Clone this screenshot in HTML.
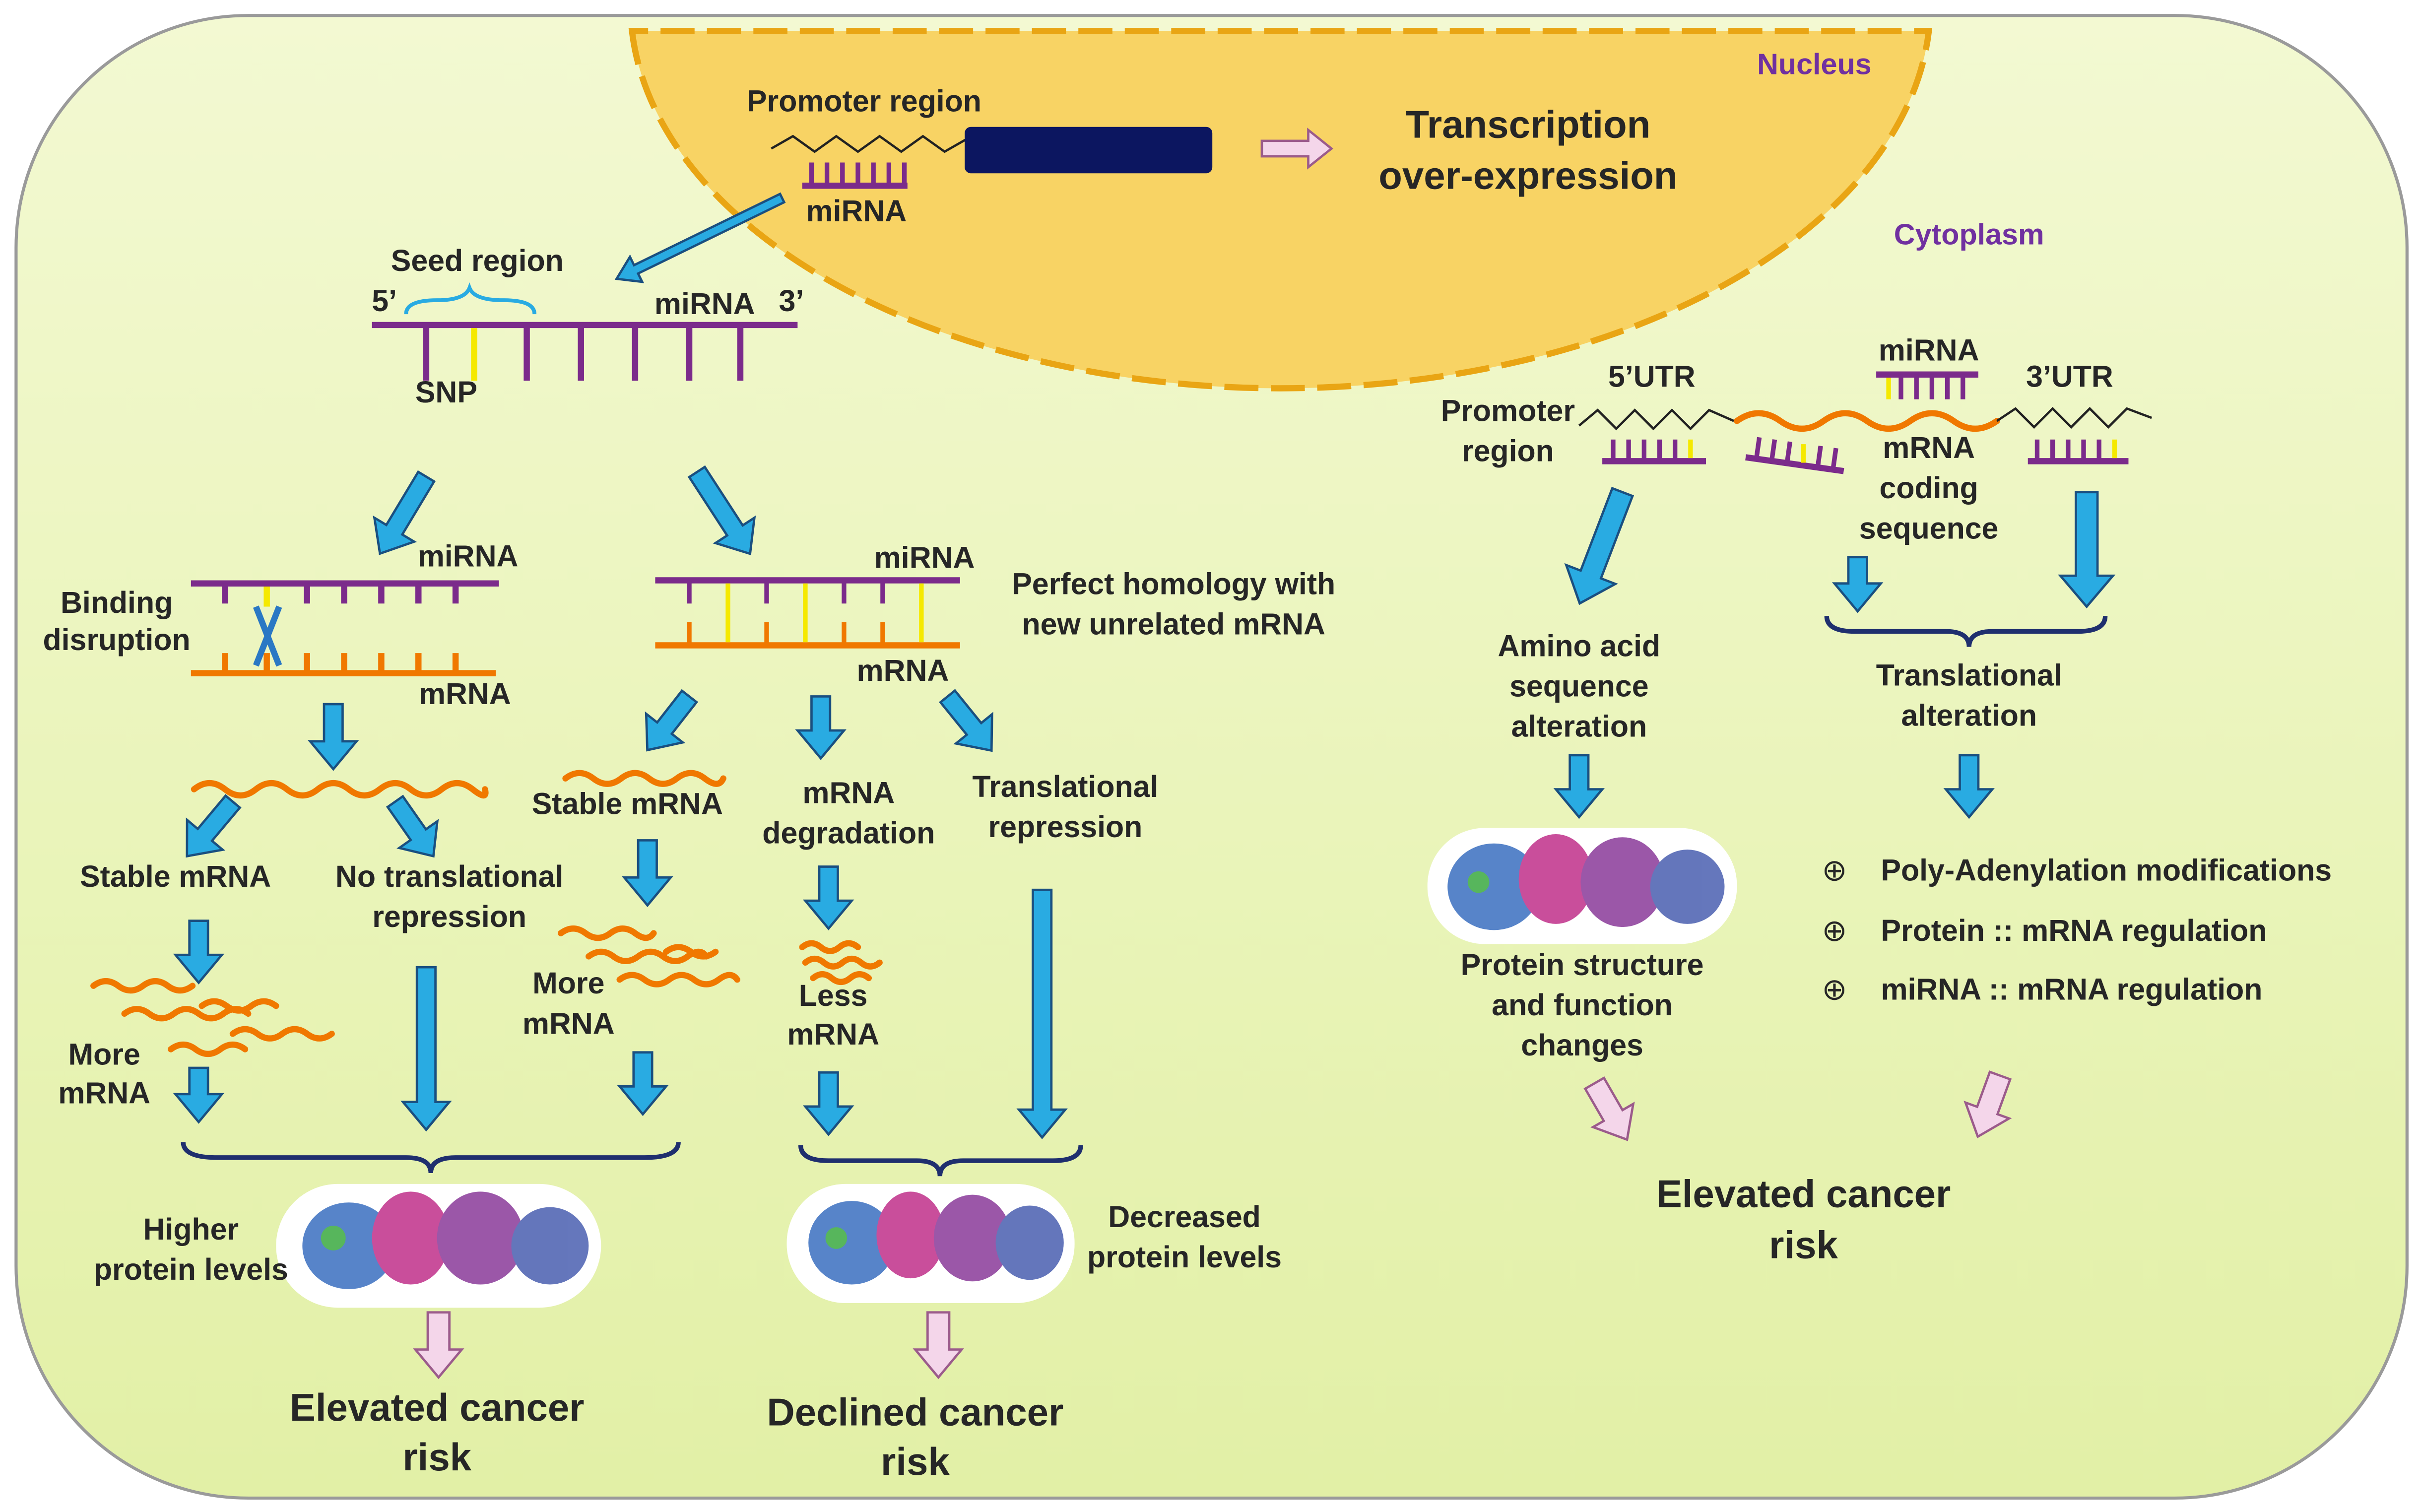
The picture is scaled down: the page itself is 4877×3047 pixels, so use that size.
<!DOCTYPE html>
<html><head><meta charset="utf-8"><style>
html,body{margin:0;padding:0;background:#fff;}
svg{display:block}
text{font-family:"Liberation Sans",sans-serif;font-weight:bold;fill:#262626;font-size:19.5px;text-anchor:middle}
.big{font-size:25px}
</style></head><body>
<svg width="4877" height="3047" viewBox="0 0 1563 977" xmlns="http://www.w3.org/2000/svg">
<defs>
<linearGradient id="bg" x1="0" y1="0" x2="0" y2="1">
<stop offset="0" stop-color="#f3f9d2"/><stop offset="1" stop-color="#e2f0a6"/></linearGradient>
</defs>
<rect x="10" y="10" width="1545" height="958" rx="150" fill="url(#bg)" stroke="#9a9a9a" stroke-width="2"/>
<!-- nucleus -->
<path d="M408,20 A420,248 0 0 0 1246,20 Z" fill="#f8d364" stroke="#e9a514" stroke-width="4" stroke-dasharray="22,8"/>
<text x="1172" y="48" style="fill:#7030a0;font-size:19px">Nucleus</text>
<text x="1272" y="158" style="fill:#7030a0;font-size:19px">Cytoplasm</text>
<text x="558" y="72">Promoter region</text>
<polyline points="498,96 512,88 526,98 540,88 554,98 568,88 582,98 596,88 610,98 624,90" fill="none" stroke="#222" stroke-width="1.5"/>
<g stroke="#7b2b8b" stroke-width="3"><line x1="518" y1="120" x2="586" y2="120" stroke-width="4"/>
<line x1="524" y1="120" x2="524" y2="105"/><line x1="534" y1="120" x2="534" y2="105"/><line x1="544" y1="120" x2="544" y2="105"/><line x1="554" y1="120" x2="554" y2="105"/><line x1="564" y1="120" x2="564" y2="105"/><line x1="574" y1="120" x2="574" y2="105"/><line x1="584" y1="120" x2="584" y2="105"/></g>
<text x="553" y="143">miRNA</text>
<rect x="623" y="82" width="160" height="30" rx="4" fill="#0c1660"/>
<path d="M815,91 H845 V84 L860,96 L845,108 V101 H815 Z" fill="#f4d6ea" stroke="#9b5b8b" stroke-width="1.5"/>
<text x="987" y="89" class="big">Transcription</text>
<text x="987" y="122" class="big">over-expression</text>
<g transform="translate(505,128) rotate(64)"><path d="M-3,0 H3 V105 H9 L0,119 L-9,105 H-3 Z" fill="#29abe2" stroke="#1a4f80" stroke-width="1.5"/></g>
<!-- seed -->
<text x="308" y="175">Seed region</text>
<path d="M262,203 Q262,194 282,194 Q300,194 303,186 Q306,194 325,194 Q345,194 345,203" fill="none" stroke="#29abe2" stroke-width="2.5"/>
<text x="248" y="201">5’</text><text x="455" y="203">miRNA</text><text x="511" y="201">3’</text>
<g stroke="#7b2b8b" stroke-width="4"><line x1="240" y1="210" x2="515" y2="210"/>
<line x1="275" y1="210" x2="275" y2="246"/><line x1="340" y1="210" x2="340" y2="246"/><line x1="375" y1="210" x2="375" y2="246"/><line x1="410" y1="210" x2="410" y2="246"/><line x1="445" y1="210" x2="445" y2="246"/><line x1="478" y1="210" x2="478" y2="246"/></g>
<line x1="306" y1="212" x2="306" y2="246" stroke="#f5e900" stroke-width="4"/>
<text x="288" y="260">SNP</text>
<!-- binding disruption -->
<g stroke="#7b2b8b" stroke-width="4"><line x1="123" y1="377" x2="322" y2="377"/>
<line x1="145" y1="377" x2="145" y2="390"/><line x1="198" y1="377" x2="198" y2="390"/><line x1="222" y1="377" x2="222" y2="390"/><line x1="246" y1="377" x2="246" y2="390"/><line x1="270" y1="377" x2="270" y2="390"/><line x1="294" y1="377" x2="294" y2="390"/></g>
<line x1="172" y1="379" x2="172" y2="392" stroke="#f5e900" stroke-width="4"/>
<g stroke="#f07800" stroke-width="4"><line x1="123" y1="435" x2="320" y2="435"/>
<line x1="145" y1="435" x2="145" y2="422"/><line x1="172" y1="435" x2="172" y2="422"/><line x1="198" y1="435" x2="198" y2="422"/><line x1="222" y1="435" x2="222" y2="422"/><line x1="246" y1="435" x2="246" y2="422"/><line x1="270" y1="435" x2="270" y2="422"/><line x1="294" y1="435" x2="294" y2="422"/></g>
<path d="M165,392 L180,430 M180,392 L165,430" stroke="#2a78c4" stroke-width="4"/>
<text x="302" y="366">miRNA</text><text x="75" y="396">Binding</text><text x="75" y="420">disruption</text><text x="300" y="455">mRNA</text>
<!-- perfect homology -->
<g stroke="#7b2b8b" stroke-width="4"><line x1="423" y1="375" x2="620" y2="375"/></g>
<g stroke="#f07800" stroke-width="4"><line x1="423" y1="417" x2="620" y2="417"/></g>
<g stroke-width="3">
<g stroke="#7b2b8b"><line x1="445" y1="375" x2="445" y2="390"/><line x1="495" y1="375" x2="495" y2="390"/><line x1="545" y1="375" x2="545" y2="390"/><line x1="570" y1="375" x2="570" y2="390"/></g>
<g stroke="#f07800"><line x1="445" y1="417" x2="445" y2="402"/><line x1="495" y1="417" x2="495" y2="402"/><line x1="545" y1="417" x2="545" y2="402"/><line x1="570" y1="417" x2="570" y2="402"/></g>
<g stroke="#f5e900"><line x1="470" y1="377" x2="470" y2="415"/><line x1="520" y1="377" x2="520" y2="415"/><line x1="595" y1="377" x2="595" y2="415"/></g></g>
<text x="597" y="367">miRNA</text><text x="758" y="384">Perfect homology with</text><text x="758" y="410">new unrelated mRNA</text><text x="583" y="440">mRNA</text>
<!-- waves -->
<g fill="none" stroke="#f07800" stroke-width="4" stroke-linecap="round">
<path d="M125,510 q10,-8 20,0 t20,0 t20,0 t20,0 t20,0 t20,0 t20,0 t20,0 t20,0 t8,0"/>
<path d="M365,503 q9,-7 18,0 t18,0 t18,0 t18,0 t18,0 t12,0"/>
<path d="M60,637 q8,-6 16,0 t16,0 t16,0 t16,0"/><path d="M80,655 q8,-6 16,0 t16,0 t16,0 t16,0 t16,0"/><path d="M130,650 q8,-6 16,0 t16,0 t16,0"/>
<path d="M150,668 q8,-6 16,0 t16,0 t16,0 t16,0"/><path d="M110,678 q8,-6 16,0 t16,0 t16,0"/>
<path d="M362,603 q8,-6 16,0 t16,0 t16,0 t12,0"/><path d="M380,618 q8,-6 16,0 t16,0 t16,0 t16,0 t12,0"/><path d="M400,633 q8,-6 16,0 t16,0 t16,0 t16,0 t12,0"/><path d="M430,615 q8,-6 16,0 t16,0"/>
<path d="M518,612 q6,-5 12,0 t12,0 t12,0"/><path d="M520,622 q6,-5 12,0 t12,0 t12,0 t12,0"/><path d="M525,632 q6,-5 12,0 t12,0 t12,0"/>
<path d="M1122,272 q14,-10 28,0 t28,0 t28,0 t28,0 t28,0 t28,0"/>
</g>
<text x="113" y="573">Stable mRNA</text><text x="290" y="573">No translational</text><text x="290" y="599">repression</text>
<text x="405" y="526">Stable mRNA</text><text x="548" y="519">mRNA</text><text x="548" y="545">degradation</text>
<text x="688" y="515">Translational</text><text x="688" y="541">repression</text>
<text x="367" y="642">More</text><text x="367" y="668">mRNA</text><text x="538" y="650">Less</text><text x="538" y="675">mRNA</text>
<text x="67" y="688">More</text><text x="67" y="713">mRNA</text>
<!-- blue arrows -->
<g fill="#29abe2" stroke="#1a4f80" stroke-width="1.5">
<g transform="translate(275,308) rotate(31)"><path d="M-6,0 H6 V40 H15 L0,58 L-15,40 H-6 Z"/></g>
<g transform="translate(450,305) rotate(-33)"><path d="M-6,0 H6 V45 H15 L0,63 L-15,45 H-6 Z"/></g>
<g transform="translate(215,455)"><path d="M-6,0 H6 V24 H15 L0,42 L-15,24 H-6 Z"/></g>
<g transform="translate(150,518) rotate(40)"><path d="M-6,0 H6 V28 H15 L0,46 L-15,28 H-6 Z"/></g>
<g transform="translate(255,518) rotate(-35)"><path d="M-6,0 H6 V26 H15 L0,43 L-15,26 H-6 Z"/></g>
<g transform="translate(128,595)"><path d="M-6,0 H6 V22 H15 L0,40 L-15,22 H-6 Z"/></g>
<g transform="translate(128,690)"><path d="M-6,0 H6 V17 H15 L0,35 L-15,17 H-6 Z"/></g>
<g transform="translate(275,625)"><path d="M-6,0 H6 V87 H15 L0,105 L-15,87 H-6 Z"/></g>
<g transform="translate(445,450) rotate(38)"><path d="M-6,0 H6 V26 H15 L0,44 L-15,26 H-6 Z"/></g>
<g transform="translate(530,450)"><path d="M-6,0 H6 V22 H15 L0,40 L-15,22 H-6 Z"/></g>
<g transform="translate(612,450) rotate(-39)"><path d="M-6,0 H6 V27 H15 L0,45 L-15,27 H-6 Z"/></g>
<g transform="translate(418,543)"><path d="M-6,0 H6 V24 H15 L0,42 L-15,24 H-6 Z"/></g>
<g transform="translate(535,560)"><path d="M-6,0 H6 V22 H15 L0,40 L-15,22 H-6 Z"/></g>
<g transform="translate(415,680)"><path d="M-6,0 H6 V22 H15 L0,40 L-15,22 H-6 Z"/></g>
<g transform="translate(535,693)"><path d="M-6,0 H6 V22 H15 L0,40 L-15,22 H-6 Z"/></g>
<g transform="translate(673,575)"><path d="M-6,0 H6 V142 H15 L0,160 L-15,142 H-6 Z"/></g>
<g transform="translate(1048,318) rotate(21)"><path d="M-7,0 H7 V57 H17 L0,77 L-17,57 H-7 Z"/></g>
<g transform="translate(1348,318)"><path d="M-7,0 H7 V54 H17 L0,74 L-17,54 H-7 Z"/></g>
<g transform="translate(1200,360)"><path d="M-6,0 H6 V17 H15 L0,35 L-15,17 H-6 Z"/></g>
<g transform="translate(1020,488)"><path d="M-6,0 H6 V22 H15 L0,40 L-15,22 H-6 Z"/></g>
<g transform="translate(1272,488)"><path d="M-6,0 H6 V22 H15 L0,40 L-15,22 H-6 Z"/></g>
</g>
<!-- braces -->
<g fill="none" stroke="#1f2f6e" stroke-width="3">
<path d="M118,738 Q118,748 140,748 L262,748 Q278,748 278,758 Q278,748 294,748 L416,748 Q438,748 438,738"/>
<path d="M517,740 Q517,750 535,750 L592,750 Q607,750 607,760 Q607,750 622,750 L680,750 Q698,750 698,740"/>
<path d="M1180,398 Q1180,408 1198,408 L1257,408 Q1272,408 1272,418 Q1272,408 1287,408 L1342,408 Q1360,408 1360,398"/>
</g>
<!-- proteins -->
<g>
<rect x="178" y="765" width="210" height="80" rx="40" fill="#fff"/>
<rect x="508" y="765" width="186" height="77" rx="38" fill="#fff"/>
<rect x="922" y="535" width="200" height="75" rx="37" fill="#fff"/>
<g opacity="0.85">
<ellipse cx="225" cy="805" rx="30" ry="28" fill="#3a6fc0"/><ellipse cx="265" cy="800" rx="25" ry="30" fill="#c0308a"/><ellipse cx="310" cy="800" rx="28" ry="30" fill="#8a3a9a"/><ellipse cx="355" cy="805" rx="25" ry="25" fill="#4a5fb0"/><circle cx="215" cy="800" r="8" fill="#3aaa40"/>
<ellipse cx="550" cy="803" rx="28" ry="27" fill="#3a6fc0"/><ellipse cx="588" cy="798" rx="22" ry="28" fill="#c0308a"/><ellipse cx="628" cy="800" rx="25" ry="28" fill="#8a3a9a"/><ellipse cx="665" cy="803" rx="22" ry="24" fill="#4a5fb0"/><circle cx="540" cy="800" r="7" fill="#3aaa40"/>
<ellipse cx="965" cy="573" rx="30" ry="28" fill="#3a6fc0"/><ellipse cx="1005" cy="568" rx="24" ry="29" fill="#c0308a"/><ellipse cx="1048" cy="570" rx="27" ry="29" fill="#8a3a9a"/><ellipse cx="1090" cy="573" rx="24" ry="24" fill="#4a5fb0"/><circle cx="955" cy="570" r="7" fill="#3aaa40"/>
</g></g>
<text x="123" y="801">Higher</text><text x="123" y="827">protein levels</text>
<text x="765" y="793">Decreased</text><text x="765" y="819">protein levels</text>
<!-- pink arrows -->
<g fill="#f4d6ea" stroke="#9b5b8b" stroke-width="1.5">
<path d="M276,848 H290 V872 H298 L283,890 L268,872 H276 Z"/>
<path d="M599,848 H613 V872 H621 L606,890 L591,872 H599 Z"/>
<g transform="translate(1030,700) rotate(-30)"><path d="M-7,0 H7 V24 H15 L0,42 L-15,24 H-7 Z"/></g>
<g transform="translate(1292,695) rotate(20)"><path d="M-7,0 H7 V24 H15 L0,42 L-15,24 H-7 Z"/></g>
</g>
<text x="282" y="918" class="big">Elevated cancer</text><text x="282" y="950" class="big">risk</text>
<text x="591" y="921" class="big">Declined cancer</text><text x="591" y="953" class="big">risk</text>
<!-- right side -->
<polyline points="1020,275 1032,265 1044,277 1056,265 1068,277 1080,265 1092,277 1104,265 1120,272" fill="none" stroke="#222" stroke-width="1.5"/>
<polyline points="1290,272 1302,264 1314,276 1326,264 1338,276 1350,264 1362,276 1374,264 1390,270" fill="none" stroke="#222" stroke-width="1.5"/>
<g stroke="#7b2b8b" stroke-width="3">
<line x1="1035" y1="298" x2="1102" y2="298" stroke-width="4"/>
<line x1="1042" y1="298" x2="1042" y2="284"/><line x1="1052" y1="298" x2="1052" y2="284"/><line x1="1062" y1="298" x2="1062" y2="284"/><line x1="1072" y1="298" x2="1072" y2="284"/><line x1="1082" y1="298" x2="1082" y2="284"/>
<line x1="1310" y1="298" x2="1375" y2="298" stroke-width="4"/>
<line x1="1316" y1="298" x2="1316" y2="284"/><line x1="1326" y1="298" x2="1326" y2="284"/><line x1="1336" y1="298" x2="1336" y2="284"/><line x1="1346" y1="298" x2="1346" y2="284"/><line x1="1356" y1="298" x2="1356" y2="284"/>
<line x1="1212" y1="242" x2="1278" y2="242" stroke-width="4"/>
<line x1="1228" y1="242" x2="1228" y2="258"/><line x1="1238" y1="242" x2="1238" y2="258"/><line x1="1248" y1="242" x2="1248" y2="258"/><line x1="1258" y1="242" x2="1258" y2="258"/><line x1="1268" y1="242" x2="1268" y2="258"/>
<g transform="rotate(8 1160 295)"><line x1="1128" y1="300" x2="1192" y2="300" stroke-width="4"/>
<line x1="1135" y1="300" x2="1135" y2="286"/><line x1="1145" y1="300" x2="1145" y2="286"/><line x1="1155" y1="300" x2="1155" y2="286"/><line x1="1175" y1="300" x2="1175" y2="286"/><line x1="1185" y1="300" x2="1185" y2="286"/></g>
</g>
<g stroke="#f5e900" stroke-width="3"><line x1="1092" y1="296" x2="1092" y2="284"/><line x1="1366" y1="296" x2="1366" y2="284"/><line x1="1220" y1="244" x2="1220" y2="258"/><line x1="1165" y1="299" x2="1165" y2="287"/></g>
<text x="1067" y="250">5’UTR</text><text x="1246" y="233">miRNA</text><text x="1337" y="250">3’UTR</text>
<text x="974" y="272">Promoter</text><text x="974" y="298">region</text>
<text x="1246" y="296">mRNA</text><text x="1246" y="322">coding</text><text x="1246" y="348">sequence</text>
<text x="1020" y="424">Amino acid</text><text x="1020" y="450">sequence</text><text x="1020" y="476">alteration</text>
<text x="1272" y="443">Translational</text><text x="1272" y="469">alteration</text>
<text x="1185" y="569" style="font-weight:normal">⊕</text><text x="1215" y="569" style="text-anchor:start">Poly-Adenylation modifications</text>
<text x="1185" y="608" style="font-weight:normal">⊕</text><text x="1215" y="608" style="text-anchor:start">Protein :: mRNA regulation</text>
<text x="1185" y="646" style="font-weight:normal">⊕</text><text x="1215" y="646" style="text-anchor:start">miRNA :: mRNA regulation</text>
<text x="1022" y="630">Protein structure</text><text x="1022" y="656">and function</text><text x="1022" y="682">changes</text>
<text x="1165" y="780" class="big">Elevated cancer</text><text x="1165" y="813" class="big">risk</text>
</svg>
</body></html>
